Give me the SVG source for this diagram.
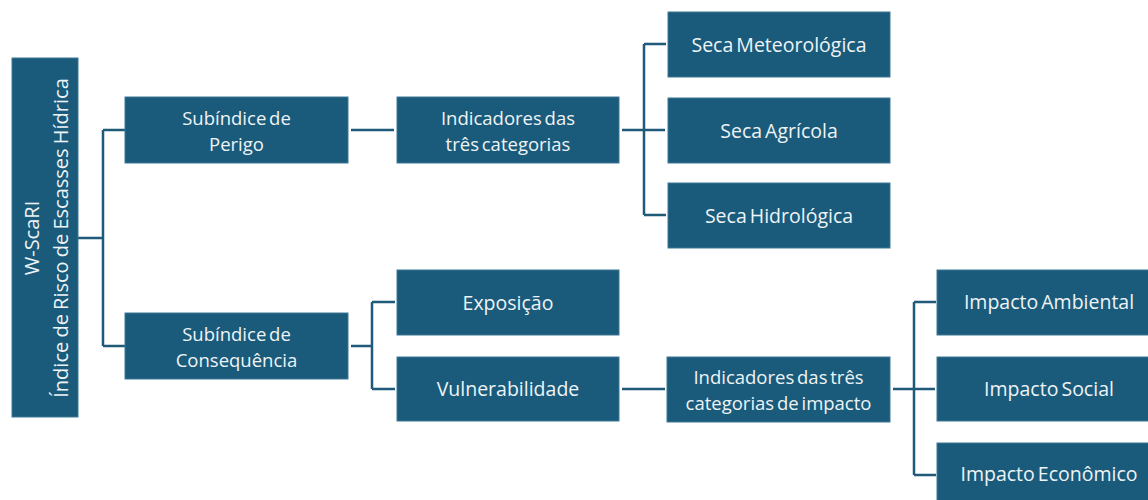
<svg xmlns="http://www.w3.org/2000/svg" width="1148" height="500" viewBox="0 0 1148 500">
<style>
.box{fill:#1a5b7b;stroke:#3f7896;stroke-width:1}
.t{font-family:"Open Sans","Liberation Sans",sans-serif;font-size:19.5px;fill:#eef3f6;text-anchor:middle;dominant-baseline:central;word-spacing:-2px}
.m{font-size:18.5px}
.r{font-size:20px;word-spacing:-1px}
.c{fill:none;stroke:#1f5a78;stroke-width:2.5}
</style>
<rect width="1148" height="500" fill="#ffffff"/>
<g id="connectors">
<path class="c" d="M78 238H103M103 130V346M103 130H125M103 346H125"/>
<path class="c" d="M351 130H394"/>
<path class="c" d="M622 130H665M644 44V215M644 44H666M644 215H666"/>
<path class="c" d="M351 346H372M372 302V389M372 302H395M372 389H395"/>
<path class="c" d="M622 389H665"/>
<path class="c" d="M893 389H935M914 302V475M914 302H936M914 475H936"/>
</g>
<g id="root"><rect class="box" x="12" y="58" width="66" height="359"/>
<text class="t r" transform="translate(45 238) rotate(-90)"><tspan x="0" y="-14">W-ScaRI</tspan><tspan x="0" y="15">Índice de Risco de Escasses Hídrica</tspan></text></g>
<g id="perigo"><rect class="box" x="125" y="97" width="223" height="66"/>
<text class="t m"><tspan x="236.5" y="117">Subíndice de</tspan><tspan x="236.5" y="143">Perigo</tspan></text></g>
<g id="indicadores"><rect class="box" x="397" y="97" width="222" height="66"/>
<text class="t m"><tspan x="508" y="117">Indicadores das</tspan><tspan x="508" y="143">três categorias</tspan></text></g>
<g id="meteo"><rect class="box" x="668" y="12" width="222" height="65"/>
<text class="t" x="779" y="44">Seca Meteorológica</text></g>
<g id="agricola"><rect class="box" x="668" y="98" width="222" height="65"/>
<text class="t" x="779" y="130">Seca Agrícola</text></g>
<g id="hidro"><rect class="box" x="668" y="183" width="222" height="65"/>
<text class="t" x="779" y="215">Seca Hidrológica</text></g>
<g id="consequencia"><rect class="box" x="125" y="313" width="223" height="66"/>
<text class="t m"><tspan x="236.5" y="333">Subíndice de</tspan><tspan x="236.5" y="359">Consequência</tspan></text></g>
<g id="exposicao"><rect class="box" x="397" y="270" width="222" height="65"/>
<text class="t" x="508" y="302">Exposição</text></g>
<g id="vulnerabilidade"><rect class="box" x="397" y="357" width="222" height="64"/>
<text class="t" x="508" y="388">Vulnerabilidade</text></g>
<g id="indicadores-impacto"><rect class="box" x="667" y="357" width="223" height="65"/>
<text class="t m"><tspan x="778.5" y="376">Indicadores das três</tspan><tspan x="778.5" y="402">categorias de impacto</tspan></text></g>
<g id="ambiental"><rect class="box" x="937" y="270" width="215" height="65"/>
<text class="t" x="1049" y="301">Impacto Ambiental</text></g>
<g id="social"><rect class="box" x="937" y="357" width="215" height="64"/>
<text class="t" x="1049" y="388">Impacto Social</text></g>
<g id="economico"><rect class="box" x="937" y="443" width="215" height="65"/>
<text class="t" x="1049" y="473">Impacto Econômico</text></g>
</svg>
